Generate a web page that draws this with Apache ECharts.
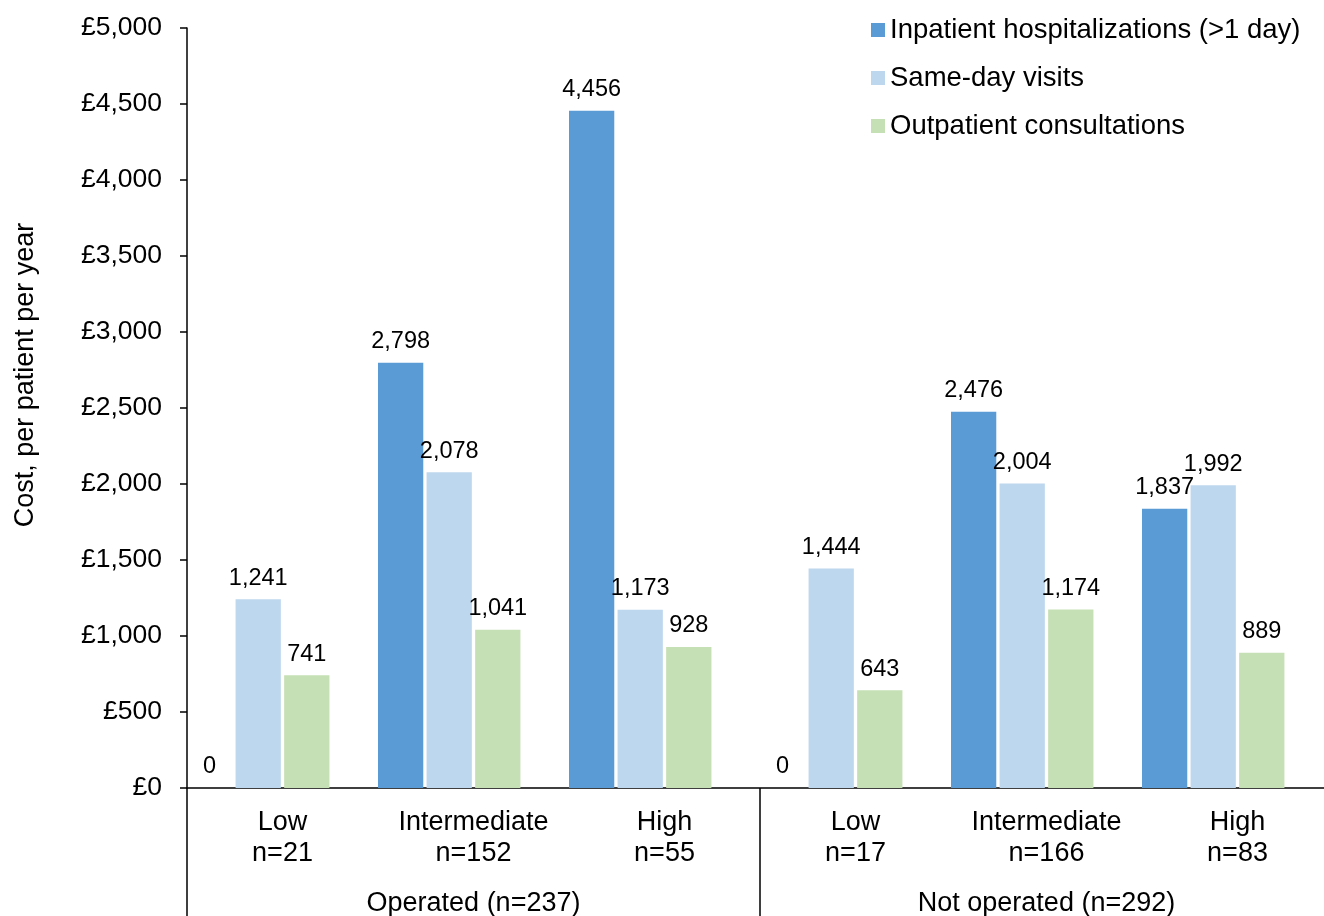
<!DOCTYPE html>
<html>
<head>
<meta charset="utf-8">
<script src="https://cdn.jsdelivr.net/npm/echarts@6/dist/echarts.min.js"></script>
<style>
  html, body { margin: 0; padding: 0; background: #fff; }
  #chart { width: 1324px; height: 916px; }
</style>
</head>
<body>
<div id="chart"></div>
<script>
// Risk level and group size for each bar cluster
const riskLevels = ['Low', 'Intermediate', 'High', 'Low', 'Intermediate', 'High'];
const groupSizes = ['n=21', 'n=152', 'n=55', 'n=17', 'n=166', 'n=83'];
// Outer grouping shown beneath the clusters
const surgeryGroups = ['Operated (n=237)', 'Not operated (n=292)'];

// Annual cost per patient (£)
const inpatient = [0, 2798, 4456, 0, 2476, 1837];
const sameDay = [1241, 2078, 1173, 1444, 2004, 1992];
const outpatient = [741, 1041, 928, 643, 1174, 889];

const seriesNames = ['Inpatient hospitalizations (>1 day)', 'Same-day visits', 'Outpatient consultations'];
const yTicks = { min: 0, max: 5000, interval: 500 };

const FONT = '"Liberation Sans", Arial, sans-serif';
const categories = riskLevels.map((r, i) => r + '\n' + groupSizes[i]);
const fmt = v => v.toLocaleString('en-GB');

const barLabel = {
  show: true,
  position: 'top',
  distance: 9,
  color: '#000',
  fontFamily: FONT,
  fontSize: 23.5,
  formatter: p => fmt(p.value)
};

const chart = echarts.init(document.getElementById('chart'), null, { renderer: 'canvas' });
chart.setOption({
  animation: false,
  backgroundColor: '#fff',
  textStyle: { fontFamily: FONT, color: '#000' },
  grid: { left: 187, top: 28, right: -9, bottom: 128, containLabel: false, outerBoundsMode: 'none' },
  legend: {
    data: seriesNames,
    orient: 'vertical',
    left: 866,
    top: 11,
    itemWidth: 14,
    itemHeight: 14,
    itemGap: 20,
    icon: 'rect',
    textStyle: { fontFamily: FONT, fontSize: 27.5, color: '#000', lineHeight: 27 }
  },
  xAxis: [
    {
      type: 'category',
      data: categories,
      axisLine: { lineStyle: { color: '#000', width: 1.5 } },
      axisTick: { show: false },
      axisLabel: {
        interval: 0,
        margin: 19,
        color: '#000',
        fontFamily: FONT,
        fontSize: 27,
        lineHeight: 31
      }
    },
    {
      type: 'category',
      position: 'bottom',
      data: surgeryGroups,
      axisLine: { show: false },
      axisTick: { show: true, interval: 0, length: 132, lineStyle: { color: '#000', width: 1.5 } },
      axisLabel: {
        interval: 0,
        margin: 102,
        color: '#000',
        fontFamily: FONT,
        fontSize: 27,
        lineHeight: 27
      }
    }
  ],
  yAxis: {
    type: 'value',
    min: yTicks.min,
    max: yTicks.max,
    interval: yTicks.interval,
    name: 'Cost, per patient per year',
    nameLocation: 'middle',
    nameGap: 148,
    nameRotate: 90,
    nameTextStyle: { fontFamily: FONT, fontSize: 27, color: '#000', padding: [0, 0, 0, 66] },
    splitLine: { show: false },
    axisLine: { show: true, lineStyle: { color: '#000', width: 1.5 } },
    axisTick: { show: true, length: 7, lineStyle: { color: '#000', width: 1.5 } },
    axisLabel: {
      margin: 25,
      color: '#000',
      fontFamily: FONT,
      fontSize: 26.5,
      formatter: v => '£' + fmt(v)
    }
  },
  series: [
    {
      name: seriesNames[0],
      type: 'bar',
      data: inpatient,
      itemStyle: { color: '#5B9BD5' },
      barGap: '7.3%',
      barCategoryGap: 0,
      label: barLabel
    },
    {
      name: seriesNames[1],
      type: 'bar',
      data: sameDay,
      itemStyle: { color: '#BDD7EE' },
      label: barLabel
    },
    {
      name: seriesNames[2],
      type: 'bar',
      data: outpatient,
      itemStyle: { color: '#C5E0B4' },
      label: barLabel
    },
    {
      // empty slot that keeps the space on the right of each cluster
      type: 'bar',
      data: riskLevels.map(() => '-'),
      silent: true
    }
  ]
});
</script>
</body>
</html>
